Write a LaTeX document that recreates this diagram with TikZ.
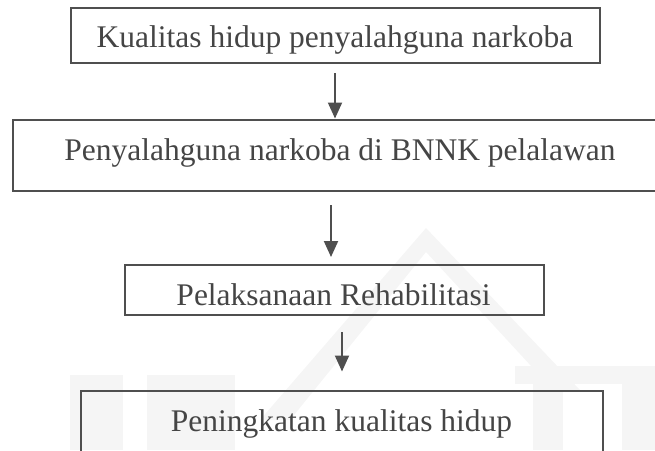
\documentclass[tikz,border=0pt]{standalone}
\usepackage{fontspec}
\setmainfont{Liberation Serif}
\usetikzlibrary{arrows.meta}
\definecolor{lc}{HTML}{4F4F4F}
\definecolor{tc}{HTML}{454545}
\definecolor{wm}{HTML}{F5F5F5}
\tikzset{
  box/.style={draw=lc, line width=2pt, inner sep=0pt, fill=none},
  lbl/.style={text=tc, anchor=base, inner sep=0pt, font=\fontsize{31.5}{38}\selectfont},
  arr/.style={draw=lc, line width=2pt, -{Triangle[length=16pt,width=14pt]}},
  wmark/.style={fill=wm, draw=none}
}
\begin{document}
\begin{tikzpicture}[x=1pt,y=-1pt]
\useasboundingbox (0,0) rectangle (655,450);
\clip (0,0) rectangle (655,450);
% faint watermark
\fill[wmark] (260,420) -- (426,228) -- (580,390) -- (555,392) -- (426,252) -- (290,420) -- cycle;
\fill[wmark] (70,375) rectangle (123,450);
\fill[wmark] (147,375) rectangle (235,450);
\fill[wmark] (515,366) rectangle (655,384);
\fill[wmark] (533,384) rectangle (563,450);
\fill[wmark] (622,384) rectangle (655,450);
% boxes
\node[box, minimum width=529.5pt, minimum height=55.5pt] (b1) at (335.25,35.25) {};
\node[box, minimum width=657pt, minimum height=71.5pt] (b2) at (341.5,155.25) {};
\node[box, minimum width=419.5pt, minimum height=50.5pt] (b3) at (334.25,289.75) {};
\node[box, minimum width=522pt, minimum height=89.3pt] (b4) at (341.5,435.35) {};
% labels
\node[lbl] (t1) at (335,47.5) {Kualitas hidup penyalahguna narkoba};
\node[lbl] (t2) at (340,160) {Penyalahguna narkoba di BNNK pelalawan};
\node[lbl] (t3) at (333.5,305) {Pelaksanaan Rehabilitasi};
\node[lbl] (t4) at (341.5,431.5) {Peningkatan kualitas hidup};
% arrows
\coordinate (a1s) at (335,73);
\coordinate (a2s) at (331,205);
\coordinate (a2e) at (331,257);
\coordinate (a3s) at (342,332);
\coordinate (a3e) at (342,371.5);
\draw[arr] (a1s) -- (a1s |- b2.north);
\draw[arr] (a2s) -- (a2e);
\draw[arr] (a3s) -- (a3e);
\end{tikzpicture}
\end{document}
